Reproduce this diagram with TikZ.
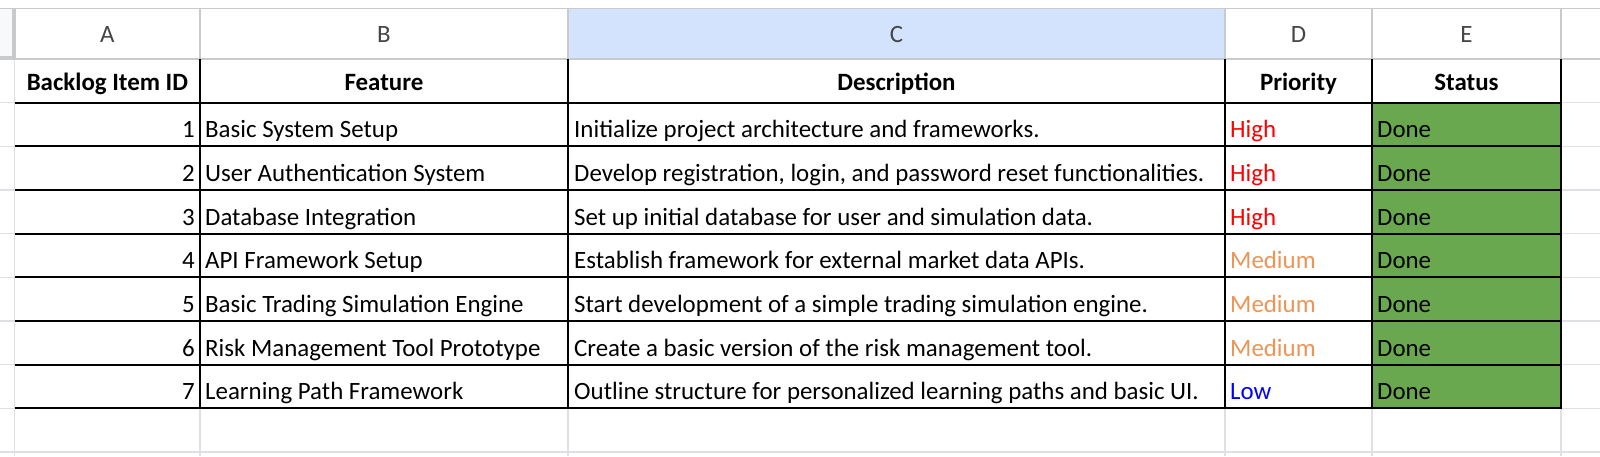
\documentclass[tikz,border=0pt]{standalone}
\usepackage{fontspec}
\setmainfont{Carlito}
\definecolor{gridgray}{RGB}{222,224,227}
\definecolor{hdrgray}{RGB}{200,202,204}
\definecolor{colsel}{RGB}{211,227,253}
\definecolor{cornerfill}{RGB}{248,249,250}
\definecolor{lettergray}{RGB}{68,71,70}
\definecolor{donegreen}{RGB}{106,168,79}
\definecolor{highred}{RGB}{255,0,0}
\definecolor{medorange}{RGB}{240,148,84}
\definecolor{lowblue}{RGB}{0,0,255}
\tikzset{
  cell/.style={inner sep=0pt, font=\fontsize{24.9}{28}\selectfont},
  hdr/.style={cell, font=\fontsize{24.9}{28}\selectfont\bfseries, anchor=base},
  letter/.style={cell, text=lettergray, anchor=base},
  idtxt/.style={cell, anchor=base east},
  lefttxt/.style={cell, anchor=base west},
  gridline/.style={draw=gridgray, line width=1.3pt},
  hdrline/.style={draw=hdrgray, line width=1.8pt},
  blackline/.style={draw=black, line width=2pt},
}
\begin{document}
\begin{tikzpicture}[x=1pt,y=-1pt]
\useasboundingbox (0,0) rectangle (1600,456);
\fill[white] (0,0) rectangle (1600,456);
% column letter row
\fill[colsel] (568,8.5) rectangle (1225,59.3);
\fill[cornerfill] (0,8.5) rectangle (14.7,59.3);
\draw[hdrgray, line width=3pt] (13.5,8.5) -- (13.5,57.5) -- (0,57.5);
% status fill
\fill[donegreen] (1372,102.7) rectangle (1561,408.2);
% light grid lines
\foreach \y in {102.7,146.4,190.0,233.7,277.3,321.0,364.6,408.2,452} {
  \draw[gridline] (0,\y) -- (14.7,\y);
  \draw[gridline] (1561,\y) -- (1600,\y);
}
\draw[gridline] (14.7,452) -- (1600,452);
\foreach \x in {14.7,200,568,1225,1372,1561} {
  \draw[gridline] (\x,408.2) -- (\x,456);
}
\draw[gridline] (14.7,59.3) -- (14.7,408.2);
% header lines
\draw[hdrline] (0,8.5) -- (1600,8.5);
\draw[hdrline] (0,59.3) -- (1600,59.3);
\foreach \x in {14.7,200,568,1225,1372,1561} {
  \draw[hdrline] (\x,8.5) -- (\x,59.3);
}
% black table lines
\foreach \y in {102.7,146.4,190.0,233.7,277.3,321.0,364.6,408.2} {
  \draw[blackline] (14.7,\y) -- (1562,\y);
}
\foreach \x in {200,568,1225,1372,1561} {
  \draw[blackline] (\x,59.3) -- (\x,409.2);
}
% column letters
\node[letter] (la) at (107.4,42.7) {A};
\node[letter] (lb) at (384,42.7) {B};
\node[letter] (lc) at (896.5,42.7) {C};
\node[letter] (ld) at (1298.5,42.7) {D};
\node[letter] (le) at (1466.5,42.7) {E};
% header row
\node[hdr] (ha) at (107.4,90) {Backlog Item ID};
\node[hdr] (hb) at (384,90) {Feature};
\node[hdr] (hc) at (896.5,90) {Description};
\node[hdr] (hd) at (1298.5,90) {Priority};
\node[hdr] (he) at (1466.5,90) {Status};
% data rows
\def\ra{137.8}\def\rb{181.5}\def\rc{225.1}\def\rd{268.7}\def\re{312.4}\def\rf{356.0}\def\rg{399.6}
\node[idtxt] (i1) at (195,\ra) {1};
\node[idtxt] (i2) at (195,\rb) {2};
\node[idtxt] (i3) at (195,\rc) {3};
\node[idtxt] (i4) at (195,\rd) {4};
\node[idtxt] (i5) at (195,\re) {5};
\node[idtxt] (i6) at (195,\rf) {6};
\node[idtxt] (i7) at (195,\rg) {7};
\node[lefttxt] (f1) at (205,\ra) {Basic System Setup};
\node[lefttxt] (f2) at (205,\rb) {User Authentication System};
\node[lefttxt] (f3) at (205,\rc) {Database Integration};
\node[lefttxt] (f4) at (205,\rd) {API Framework Setup};
\node[lefttxt] (f5) at (205,\re) {Basic Trading Simulation Engine};
\node[lefttxt] (f6) at (205,\rf) {Risk Management Tool Prototype};
\node[lefttxt] (f7) at (205,\rg) {Learning Path Framework};
\node[lefttxt] (d1) at (574,\ra) {Initialize project architecture and frameworks.};
\node[lefttxt] (d2) at (574,\rb) {Develop registration, login, and password reset functionalities.};
\node[lefttxt] (d3) at (574,\rc) {Set up initial database for user and simulation data.};
\node[lefttxt] (d4) at (574,\rd) {Establish framework for external market data APIs.};
\node[lefttxt] (d5) at (574,\re) {Start development of a simple trading simulation engine.};
\node[lefttxt] (d6) at (574,\rf) {Create a basic version of the risk management tool.};
\node[lefttxt] (d7) at (574,\rg) {Outline structure for personalized learning paths and basic UI.};
\node[lefttxt, text=highred] (p1) at (1230,\ra) {High};
\node[lefttxt, text=highred] (p2) at (1230,\rb) {High};
\node[lefttxt, text=highred] (p3) at (1230,\rc) {High};
\node[lefttxt, text=medorange] (p4) at (1230,\rd) {Medium};
\node[lefttxt, text=medorange] (p5) at (1230,\re) {Medium};
\node[lefttxt, text=medorange] (p6) at (1230,\rf) {Medium};
\node[lefttxt, text=lowblue] (p7) at (1230,\rg) {Low};
\node[lefttxt] (s1) at (1377,\ra) {Done};
\node[lefttxt] (s2) at (1377,\rb) {Done};
\node[lefttxt] (s3) at (1377,\rc) {Done};
\node[lefttxt] (s4) at (1377,\rd) {Done};
\node[lefttxt] (s5) at (1377,\re) {Done};
\node[lefttxt] (s6) at (1377,\rf) {Done};
\node[lefttxt] (s7) at (1377,\rg) {Done};
\end{tikzpicture}
\end{document}
